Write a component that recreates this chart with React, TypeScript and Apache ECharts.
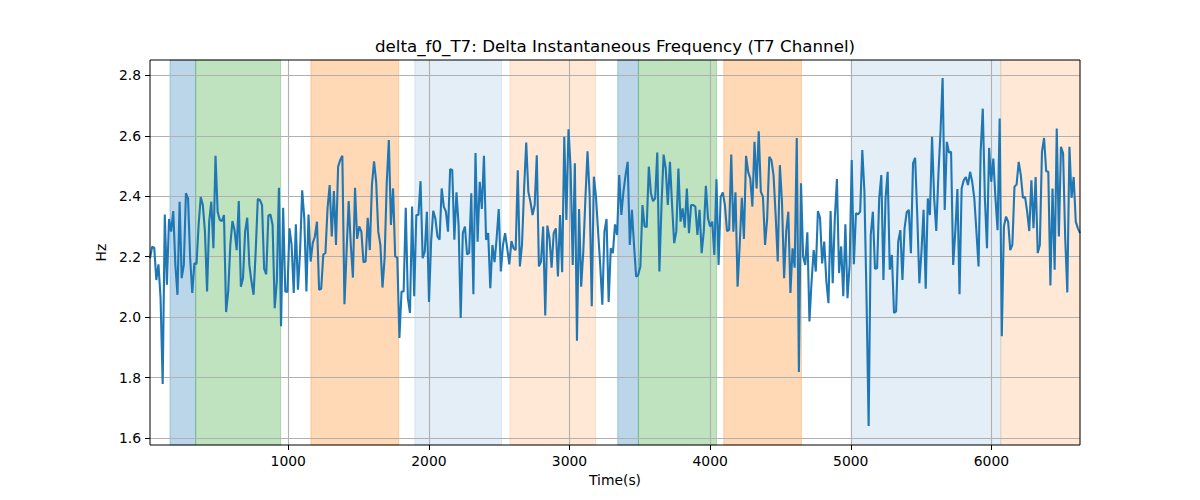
import React, { useEffect, useRef } from "react";
import * as echarts from "echarts";

const TITLE = "delta_f0_T7: Delta Instantaneous Frequency (T7 Channel)";
const X_LABEL = "Time(s)";
const Y_LABEL = "Hz";

const T_START = 17;
const T_END = 6630;
const Y_MIN = 1.577;
const Y_MAX = 2.851;
const X_TICKS = [1000, 2000, 3000, 4000, 5000, 6000];
const Y_TICKS = [1.6, 1.8, 2.0, 2.2, 2.4, 2.6, 2.8];

// shaded segments (seconds)
const SPAN_START = [159, 342, 1161, 1900, 2576, 3343, 3490, 4097, 5003, 6067];
const SPAN_END = [342, 946, 1785, 2517, 3186, 3490, 4045, 4649, 6067, 6640];
const SPAN_KIND = ["blue", "green", "orange", "lightblue", "lightorange", "blue", "green", "orange", "lightblue", "lightorange"];
const SPAN_COLOR: Record<string, string> = {
  blue: "rgba(31,119,180,0.3)",
  green: "rgba(44,160,44,0.3)",
  orange: "rgba(255,127,14,0.3)",
  lightblue: "rgba(31,119,180,0.12)",
  lightorange: "rgba(255,127,14,0.17)",
};

// delta f0 values, read left to right
const SEG1 = [2.195, 2.233, 2.230, 2.123, 2.175, 2.063, 1.779, 2.340, 2.107, 2.325, 2.283, 2.351, 2.173, 2.074, 2.382, 2.129, 2.173, 2.410, 2.393, 2.195, 2.080, 2.178, 2.176, 2.305, 2.398, 2.371, 2.283, 2.085, 2.316, 2.382, 2.228, 2.534, 2.349, 2.322, 2.318, 2.338, 2.017, 2.085, 2.239, 2.318, 2.288, 2.222, 2.384, 2.101, 2.129, 2.283, 2.329, 2.173, 2.118, 2.074, 2.217, 2.391, 2.388, 2.371, 2.160, 2.142, 2.336, 2.340];
const SEG2 = [2.305, 2.030, 2.118, 2.428, 1.970, 2.362, 2.085, 2.083, 2.294, 2.239, 2.080, 2.307, 2.091, 2.217, 2.420, 2.327, 2.085, 2.340, 2.184, 2.245, 2.267, 2.316, 2.091, 2.094, 2.208, 2.212, 2.360, 2.437, 2.267, 2.417, 2.239, 2.498, 2.520, 2.534, 2.043, 2.217, 2.384, 2.239, 2.131, 2.428, 2.259, 2.300, 2.283, 2.182, 2.184, 2.329, 2.222, 2.437, 2.516, 2.448, 2.283, 2.239, 2.098, 2.195, 2.443];
const SEG3 = [2.586, 2.305, 2.426, 2.201, 2.197, 1.931, 2.085, 2.085, 2.362, 2.063, 2.014, 2.366, 2.069, 2.338, 2.338, 2.450, 2.195, 2.217, 2.349, 2.050, 2.250, 2.352, 2.327, 2.267, 2.256, 2.426, 2.366, 2.349, 2.283, 2.490, 2.487, 2.256, 2.413, 2.305, 1.997, 2.278, 2.300, 2.208, 2.212, 2.410, 2.076, 2.543, 2.250, 2.448, 2.358, 2.534, 2.256, 2.278, 2.096, 2.239, 2.182, 2.261, 2.358, 2.151];
const SEG4 = [2.239, 2.278, 2.228, 2.175, 2.252, 2.228, 2.222, 2.486, 2.168, 2.239, 2.426, 2.578, 2.415, 2.382, 2.338, 2.371, 2.536, 2.168, 2.184, 2.300, 2.006, 2.303, 2.261, 2.164, 2.278, 2.294, 2.135, 2.338, 2.149, 2.597, 2.322, 2.622, 2.492, 2.173, 2.509, 1.922, 2.358, 2.101, 2.217, 2.393, 2.549, 2.404, 2.036, 2.465, 2.398, 2.283, 2.173, 2.041, 2.283, 2.325, 2.050, 2.228, 2.212, 2.307];
const SEG5 = [2.272, 2.470, 2.338, 2.415, 2.470, 2.514, 2.239, 2.355, 2.239, 2.134, 2.140, 2.168, 2.371, 2.300, 2.298, 2.498, 2.410, 2.384, 2.393, 2.545, 2.151, 2.371, 2.538, 2.492, 2.371, 2.514, 2.371, 2.245, 2.283, 2.492, 2.316, 2.360, 2.296, 2.426, 2.278, 2.371, 2.371, 2.366, 2.272, 2.355, 2.212, 2.283, 2.435, 2.327, 2.300, 2.316, 2.206, 2.456, 2.173, 2.398, 2.413, 2.371, 2.285, 2.288, 2.538];
const SEG6 = [2.283, 2.413, 2.101, 2.239, 2.395, 2.259, 2.534, 2.481, 2.459, 2.366, 2.580, 2.426, 2.615, 2.415, 2.398, 2.239, 2.327, 2.531, 2.520, 2.470, 2.338, 2.184, 2.503, 2.382, 2.129, 2.283, 2.349, 2.080, 2.228, 2.164, 2.593, 1.819, 2.443, 2.201, 2.173, 2.281, 1.986, 2.118, 2.222, 2.151, 2.351, 2.329, 2.178, 2.250, 2.118, 2.046, 2.351, 2.112, 2.327, 2.457, 2.146, 2.234, 2.069, 2.307, 2.063];
const SEG7 = [2.173, 2.520, 2.175, 2.344, 2.340, 2.349, 2.553, 2.415, 2.063, 1.640, 2.272, 2.349, 2.160, 2.162, 2.393, 2.470, 2.123, 2.393, 2.481, 2.157, 2.206, 2.014, 2.019, 2.250, 2.288, 2.123, 2.294, 2.347, 2.355, 2.212, 2.509, 2.527, 2.338, 2.112, 2.217, 2.355, 2.094, 2.393, 2.338, 2.597, 2.393, 2.285, 2.470, 2.613, 2.791, 2.355, 2.580, 2.545, 2.547, 2.173, 2.283, 2.424, 2.076, 2.426, 2.453];
const SEG8 = [2.464, 2.437, 2.481, 2.448, 2.393, 2.283, 2.168, 2.547, 2.690, 2.393, 2.228, 2.560, 2.448, 2.525, 2.393, 2.288, 2.657, 1.937, 2.300, 2.333, 2.316, 2.222, 2.239, 2.432, 2.439, 2.514, 2.470, 2.395, 2.398, 2.349, 2.285, 2.453, 2.294, 2.464, 2.212, 2.239, 2.547, 2.593, 2.483, 2.481, 2.105, 2.426, 2.157, 2.624, 2.267, 2.564, 2.542, 2.261, 2.082, 2.564, 2.395, 2.464, 2.316, 2.294, 2.278];

const FONT = "DejaVu Sans";

export default function App() {
  const ref = useRef<HTMLDivElement>(null);
  useEffect(() => {
    if (!ref.current) return;
    const chart = echarts.init(ref.current, null, { renderer: "svg" });
    const values = [...SEG1, ...SEG2, ...SEG3, ...SEG4, ...SEG5, ...SEG6, ...SEG7, ...SEG8];
    const n = values.length;
    const lineData = values.map((v, i) => [T_START + (i * (T_END - T_START)) / (n - 1), v]);
    const spanData = SPAN_START.map((s, i) => [s, SPAN_END[i], i]);

    const axisCommon = {
      z: 2,
      axisLine: { show: false },
      axisTick: { show: true, length: 5, lineStyle: { color: "#000", width: 1 } },
      splitLine: { show: true, lineStyle: { color: "#b0b0b0", width: 1.1 } },
      nameTextStyle: { fontFamily: FONT, fontSize: 13.9, color: "#000" },
    };

    chart.setOption({
      animation: false,
      grid: { left: 150, top: 60, width: 930, height: 385, show: true, borderColor: "#000", borderWidth: 1, backgroundColor: "transparent", z: 4 },
      graphic: [
        {
          type: "text",
          x: 615,
          y: 46,
          style: { text: TITLE, fontFamily: FONT, fontSize: 16.7, fill: "#000", align: "center", verticalAlign: "middle" },
        },
      ],
      xAxis: {
        ...axisCommon,
        type: "value",
        min: T_START,
        max: T_END,
        name: X_LABEL,
        nameLocation: "middle",
        nameGap: 28,
        axisTick: { ...axisCommon.axisTick, customValues: X_TICKS },
        axisLabel: {
          customValues: X_TICKS,
          fontFamily: FONT,
          fontSize: 13.9,
          color: "#000",
          margin: 9,
          formatter: (v: number) => String(Math.round(v)),
        },
      },
      yAxis: {
        ...axisCommon,
        type: "value",
        min: Y_MIN,
        max: Y_MAX,
        name: Y_LABEL,
        nameLocation: "middle",
        nameGap: 36,
        axisTick: { ...axisCommon.axisTick, customValues: Y_TICKS },
        axisLabel: {
          customValues: Y_TICKS,
          fontFamily: FONT,
          fontSize: 13.9,
          color: "#000",
          margin: 9,
          formatter: (v: number) => v.toFixed(1),
        },
      },
      series: [
        {
          type: "custom",
          z: 1,
          silent: true,
          data: spanData,
          encode: { x: [0, 1] },
          renderItem: (params: any, api: any) => {
            const s = api.value(0);
            const e = api.value(1);
            const p0 = api.coord([s, Y_MAX]);
            const p1 = api.coord([e, Y_MIN]);
            const cs = params.coordSys;
            const shape = echarts.graphic.clipRectByRect(
              { x: p0[0], y: p0[1], width: p1[0] - p0[0], height: p1[1] - p0[1] },
              { x: cs.x, y: cs.y, width: cs.width, height: cs.height }
            );
            if (!shape) return null;
            const color = SPAN_COLOR[SPAN_KIND[params.dataIndex]];
            return { type: "rect", shape, style: { fill: color, stroke: color, lineWidth: 1 } };
          },
        },
        {
          type: "line",
          z: 3,
          data: lineData,
          showSymbol: false,
          symbol: "none",
          lineStyle: { color: "#1f77b4", width: 2.1 },
          clip: true,
        },
      ],
    });
    return () => chart.dispose();
  }, []);
  return <div ref={ref} style={{ position: "absolute", left: 0, top: 0, width: 1200, height: 500 }} />;
}
